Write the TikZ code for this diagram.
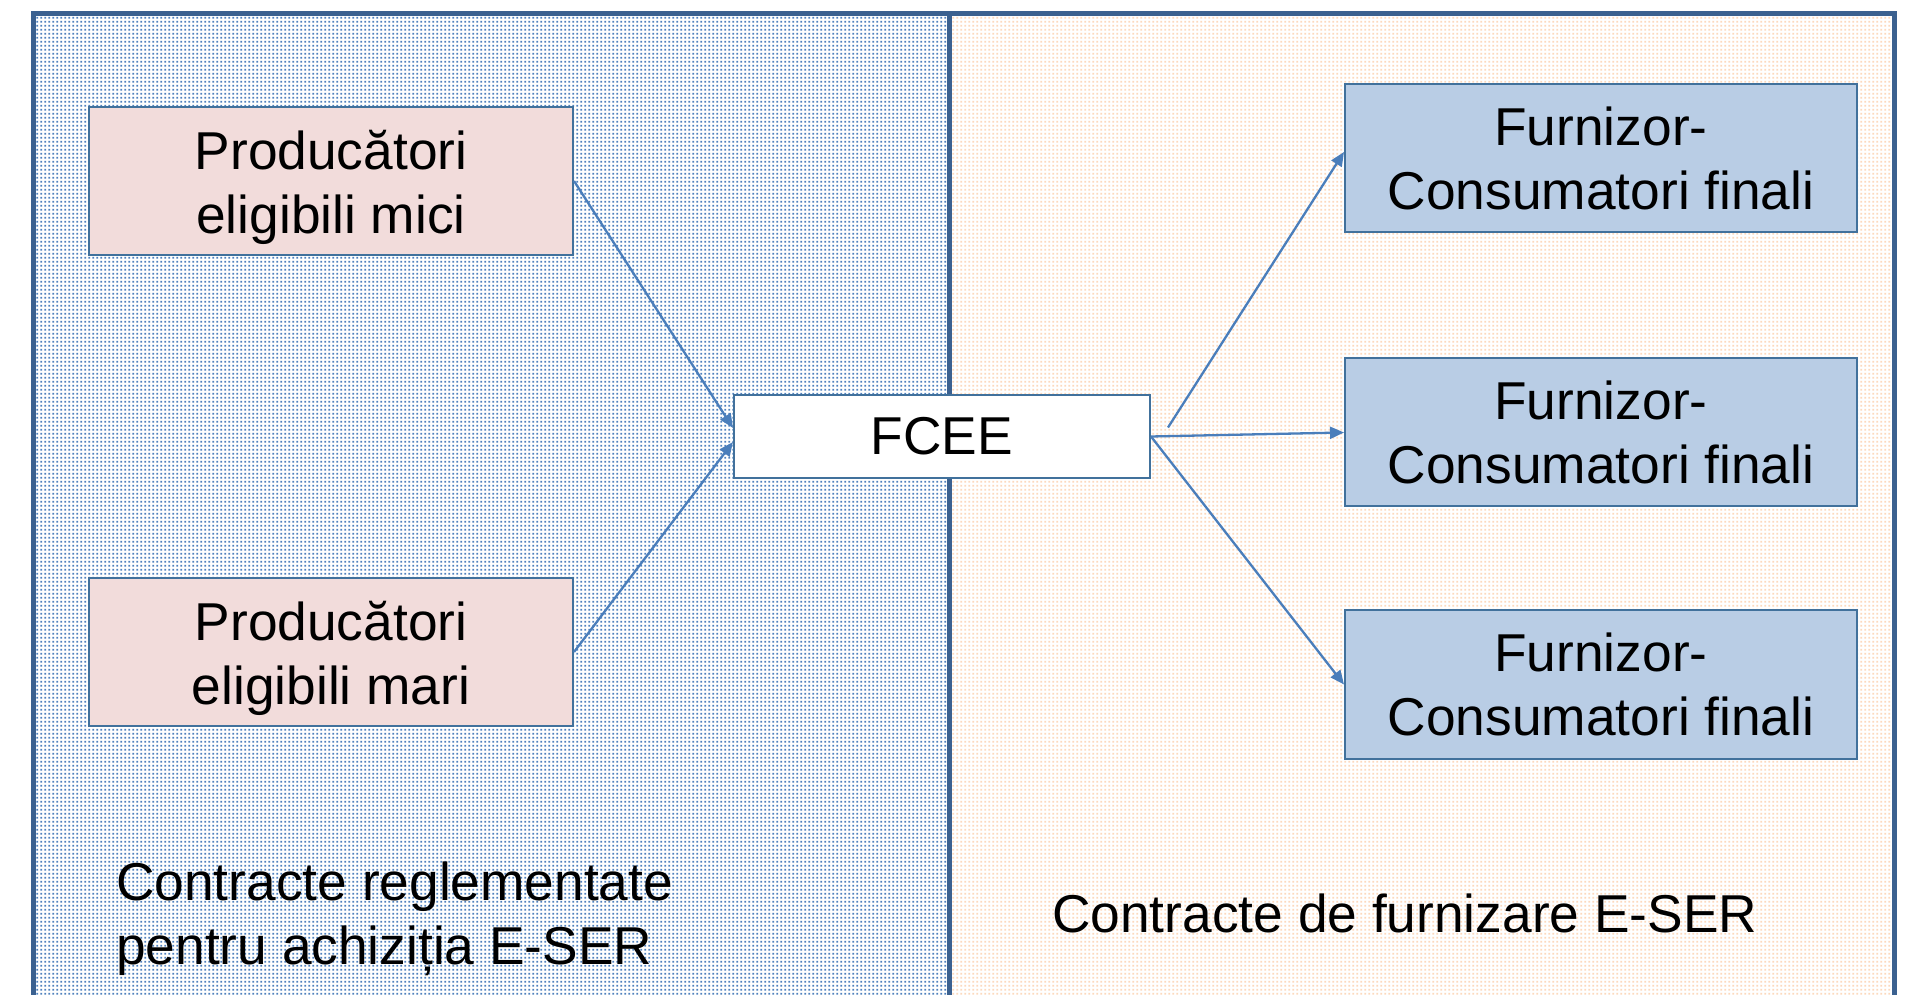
\documentclass[tikz,border=0pt]{standalone}
\usepackage{fontspec}
\setmainfont{Liberation Sans}
\usepackage{tikz}
\usetikzlibrary{calc, positioning, arrows.meta, patterns.meta}

\definecolor{frameblue}{HTML}{3B6190}
\definecolor{boxline}{HTML}{41719C}
\definecolor{arrowblue}{HTML}{4A7EBB}
\definecolor{dotblue}{HTML}{4F81BD}
\definecolor{dotpeach}{HTML}{FCD9BD}
\definecolor{pinkfill}{HTML}{F2DCDB}
\definecolor{bluefill}{HTML}{B9CDE5}

\newcommand{\tallstrut}{\rule{0pt}{52pt}}

\tikzdeclarepattern{
  name=dotgrid,
  type=uncolored,
  bottom left={(0pt,0pt)},
  top right={(4pt,4pt)},
  tile size={(4pt,4pt)},
  code={\fill (0.4pt,0.4pt) rectangle (2.8pt,2.8pt);}
}

\tikzset{
  prodbox/.style={draw=boxline, line width=2pt, fill=pinkfill, minimum width=484pt, minimum height=148pt, align=center, inner sep=0pt},
  furnbox/.style={draw=boxline, line width=2pt, fill=bluefill, minimum width=512pt, minimum height=148pt, align=center, inner sep=0pt},
  fceebox/.style={draw=boxline, line width=2pt, fill=white, minimum width=416pt, minimum height=83pt, inner sep=0pt},
  flow/.style={draw=arrowblue, line width=2.3pt, -{Triangle[length=14pt,width=12pt]}},
}

\begin{document}
\begin{tikzpicture}[x=1pt, y=1pt, font=\fontsize{53.3}{64}\selectfont]
            \useasboundingbox (0,0) rectangle (1905,994);
            \clip (0,0) rectangle (1905,994);
            \fill[white] (0,0) rectangle (1905,994);
            \fill[pattern=dotgrid, pattern color=dotblue] (33,-20) rectangle (949,980);
            \fill[pattern=dotgrid, pattern color=dotpeach] (949,-20) rectangle (1894,980);
            \draw[frameblue, line width=5pt] (33,-20) rectangle (1894,980);
            \draw[frameblue, line width=5pt] (949,-20) -- (949,980);

            \node[prodbox] (mici) at (331, 813) {\tallstrut Producători\\eligibili mici};
            \node[prodbox] (mari) at (331, 342) {\tallstrut Producători\\eligibili mari};
            \node[fceebox] (fcee) at (942, 557.5) {FCEE};
            \node[furnbox] (furn1) at (1601, 836) {Furnizor-\\Consumatori finali};
            \node[furnbox] (furn2) at (1601, 561.5) {Furnizor-\\Consumatori finali};
            \node[furnbox] (furn3) at (1601, 309.5) {Furnizor-\\Consumatori finali};

            \node[anchor=north west, inner sep=0pt, align=left] (reglem) at (116, 132) {Contracte reglementate\\pentru achiziția E-SER};
            \node[anchor=base west, inner sep=0pt] (furniz) at (1052, 62) {Contracte de furnizare E-SER};

            \draw[flow] (mici.east) -- ([yshift=8.5pt]fcee.west);
            \draw[flow] (mari.east) -- ([yshift=-5.5pt]fcee.west);
            \draw[flow] ([xshift=17pt, yshift=9pt]fcee.east) -- ([yshift=6pt]furn1.west);
            \draw[flow] (fcee.east) -- (furn2.west);
            \draw[flow] (fcee.east) -- (furn3.west);
        \end{tikzpicture}
\end{document}
